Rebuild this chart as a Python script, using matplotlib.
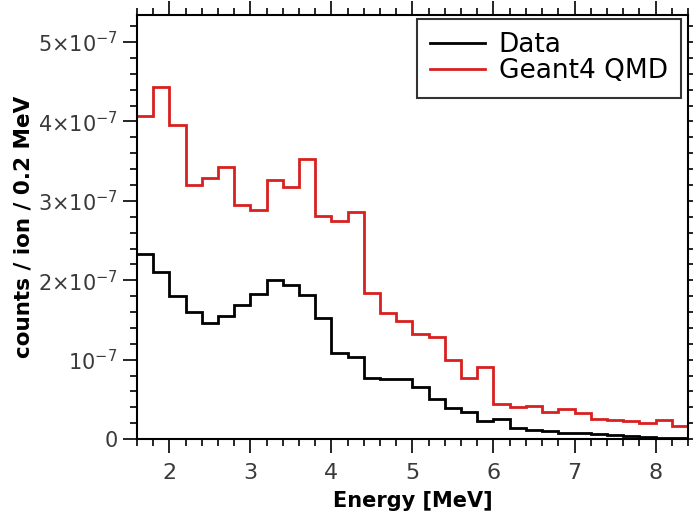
import matplotlib
matplotlib.use("Agg")
import matplotlib.pyplot as plt
import numpy as np
from matplotlib.ticker import FixedLocator, FixedFormatter, MultipleLocator

# bin edges, 0.2 MeV wide
edges = np.round(np.arange(1.6, 8.41, 0.2), 2)

# counts / ion / 0.2 MeV, in units of 1e-7
data = [2.33, 2.11, 1.80, 1.60, 1.46, 1.55, 1.69, 1.83, 2.00, 1.94,
        1.82, 1.52, 1.08, 1.03, 0.77, 0.76, 0.76, 0.65, 0.50, 0.39,
        0.34, 0.23, 0.25, 0.14, 0.12, 0.10, 0.08, 0.08, 0.07, 0.05,
        0.04, 0.02, 0.015, 0.01]
geant4 = [4.07, 4.43, 3.96, 3.20, 3.29, 3.43, 2.95, 2.89, 3.26, 3.17,
          3.53, 2.81, 2.75, 2.86, 1.84, 1.59, 1.49, 1.32, 1.28, 0.99,
          0.77, 0.91, 0.44, 0.40, 0.42, 0.34, 0.38, 0.33, 0.25, 0.24,
          0.23, 0.20, 0.24, 0.17]

ytick_vals = [0, 1e-7, 2e-7, 3e-7, 4e-7, 5e-7]
ytick_labels = ['0', r'$10^{-7}$', r'$2{\times}10^{-7}$', r'$3{\times}10^{-7}$',
                r'$4{\times}10^{-7}$', r'$5{\times}10^{-7}$']

plt.rcParams['mathtext.default'] = 'regular'

fig = plt.figure(figsize=(6.93, 5.19), dpi=100)
ax = fig.add_axes([0.1977, 0.154, 0.795, 0.817])

ax.stairs(np.array(data) * 1e-7, edges, baseline=None, color='black', lw=2, label='Data')
ax.stairs(np.array(geant4) * 1e-7, edges, baseline=None, color='#d92020', lw=2,
          label='Geant4 QMD')

ax.set_xlim(1.6, 8.4)
ax.set_ylim(0, 5.34e-7)

ax.xaxis.set_major_locator(MultipleLocator(1))
ax.xaxis.set_minor_locator(MultipleLocator(0.2))
ax.yaxis.set_major_locator(FixedLocator(ytick_vals))
ax.yaxis.set_major_formatter(FixedFormatter(ytick_labels))
ax.yaxis.set_minor_locator(MultipleLocator(2e-8))

ax.tick_params(which='both', direction='out', top=True, right=True,
               labelsize=15, labelcolor='#3a3a3a', width=1.2)
ax.tick_params(axis='y', which='major', length=10, pad=4)
ax.tick_params(axis='x', which='major', length=10, pad=7, labelsize=16)
ax.tick_params(which='minor', length=5)
for s in ax.spines.values():
    s.set_linewidth(1.5)

ax.set_xlabel('Energy [MeV]', fontsize=15, fontweight='bold', labelpad=6)
ax.set_ylabel('counts / ion / 0.2 MeV', fontsize=15.5, fontweight='bold', labelpad=3)

leg = ax.legend(loc='upper right', fontsize=19, fancybox=False, framealpha=1,
                edgecolor='#333333', borderpad=0.5, labelspacing=0.0,
                handlelength=2.1, handletextpad=0.5, borderaxespad=0,
                bbox_to_anchor=(0.987, 0.99))
leg.get_frame().set_linewidth(1.5)

fig.savefig('out.png', dpi=100)
